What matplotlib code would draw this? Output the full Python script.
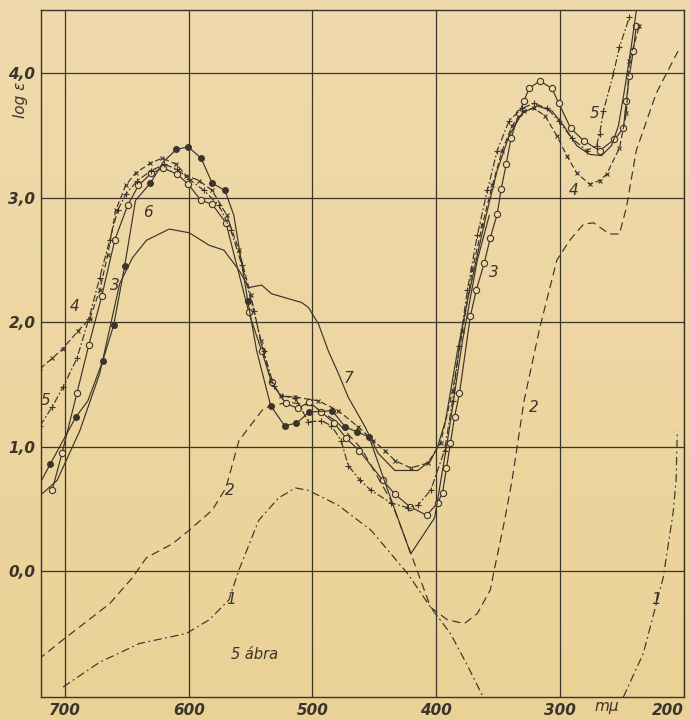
#Importing Libraries
import numpy as np
import matplotlib
matplotlib.use('Agg')
import matplotlib.pyplot as plt

#Data (wavelength in m-mu, log epsilon)
wl_1a = [701.6, 671.9, 639.8, 602.0, 583.5, 567.5, 559.4, 543.4, 527.3, 513.7, 503.2, 479.0,
         452.6, 422.9, 404.4, 388.4, 375.0, 362.0]
le_1a = [-0.93, -0.73, -0.58, -0.50, -0.39, -0.23, 0.01, 0.41, 0.59, 0.67, 0.65, 0.53,
         0.33, -0.02, -0.29, -0.50, -0.75, -1.01]
wl_1b = [248.6, 232.5, 216.4, 208.4, 206.0, 205.0]
le_1b = [-1.01, -0.66, -0.05, 0.47, 0.73, 1.13]

wl_2 = [721.7, 701.6, 663.9, 645.4, 634.1, 613.3, 599.6, 581.1, 569.9, 559.4, 539.4, 520.0,
        500.0, 480.0, 460.0, 436.5, 422.9, 404.4, 390.8, 377.1, 366.7, 356.2, 353.0, 345.0,
        338.6, 328.9, 316.1, 302.4, 292.0, 280.7, 272.7, 259.8, 251.8, 246.2, 238.2, 222.1, 204.4]
le_2 = [-0.71, -0.55, -0.26, -0.05, 0.11, 0.22, 0.33, 0.49, 0.67, 1.05, 1.31, 1.36,
        1.33, 1.20, 0.98, 0.57, 0.21, -0.29, -0.39, -0.42, -0.34, -0.15, 0.01, 0.39,
        0.73, 1.37, 1.96, 2.50, 2.66, 2.79, 2.80, 2.71, 2.71, 2.92, 3.38, 3.84, 4.18]

wl_3 = [710.4, 702.4, 690.4, 680.7, 670.3, 659.8, 649.4, 640.6, 630.1, 620.5, 609.2, 600.4,
        590.0, 581.1, 569.9, 551.4, 541.0, 533.0, 521.7, 512.0, 502.4, 492.8, 482.3, 472.7,
        462.2, 443.0, 433.3, 421.3, 407.6, 398.8, 394.8, 391.6, 388.4, 385.1, 381.1, 372.3,
        367.5, 361.0, 356.2, 350.6, 347.4, 343.4, 339.4, 333.0, 328.9, 324.9, 316.1, 306.4,
        300.8, 291.2, 280.7, 267.9, 255.8, 248.6, 246.2, 243.8, 240.6, 238.2]
le_3 = [0.65, 0.95, 1.43, 1.82, 2.21, 2.66, 2.94, 3.10, 3.20, 3.24, 3.19, 3.11,
        2.98, 2.95, 2.80, 2.08, 1.77, 1.52, 1.35, 1.31, 1.36, 1.28, 1.19, 1.07,
        0.97, 0.73, 0.62, 0.52, 0.45, 0.55, 0.63, 0.83, 1.03, 1.24, 1.43, 2.05,
        2.26, 2.48, 2.68, 2.87, 3.07, 3.27, 3.48, 3.68, 3.78, 3.88, 3.94, 3.88,
        3.76, 3.56, 3.46, 3.38, 3.47, 3.56, 3.78, 3.98, 4.18, 4.38]

wl_4 = [720.1, 710.4, 701.6, 689.6, 679.9, 671.9, 665.5, 659.0, 651.0, 643.0, 630.9, 621.3,
        610.0, 602.0, 591.6, 581.1, 569.1, 559.4, 549.8, 541.8, 533.7, 525.7, 513.7, 495.2,
        479.0, 462.9, 450.8, 441.4, 433.3, 420.5, 406.8, 396.4, 386.7, 378.7, 370.7, 362.7,
        354.6, 346.6, 338.6, 329.0, 320.9, 312.0, 302.4, 294.4, 286.3, 275.9, 267.9, 262.2,
        251.8, 246.2, 243.8, 235.7]
le_4 = [1.63, 1.71, 1.79, 1.93, 2.03, 2.26, 2.54, 2.90, 3.10, 3.20, 3.28, 3.32,
        3.27, 3.18, 3.14, 3.06, 2.86, 2.58, 2.22, 1.85, 1.53, 1.41, 1.40, 1.37,
        1.29, 1.16, 1.05, 0.97, 0.89, 0.83, 0.87, 1.03, 1.45, 1.93, 2.42, 2.78,
        3.10, 3.38, 3.58, 3.70, 3.72, 3.66, 3.50, 3.34, 3.20, 3.11, 3.14, 3.19,
        3.40, 3.68, 4.10, 4.38]

wl_5 = [720.1, 710.4, 701.6, 690.4, 680.7, 671.9, 663.9, 657.4, 651.0, 641.4, 630.1, 619.7,
        609.2, 599.6, 587.6, 575.5, 565.9, 557.0, 547.4, 539.4, 531.3, 524.9, 513.7, 503.2,
        492.8, 484.7, 476.7, 471.1, 461.4, 452.6, 436.5, 422.9, 414.9, 404.4, 393.2, 386.7,
        381.1, 374.7, 366.7, 358.6, 350.6, 341.0, 330.5, 320.9, 310.4, 300.8, 290.4, 278.3,
        270.3, 267.9, 264.7, 256.6, 251.8, 243.8]
le_5 = [1.17, 1.32, 1.48, 1.71, 2.03, 2.36, 2.66, 2.90, 3.03, 3.14, 3.22, 3.27,
        3.23, 3.15, 3.06, 2.94, 2.74, 2.46, 2.09, 1.77, 1.49, 1.41, 1.39, 1.20,
        1.21, 1.17, 1.05, 0.85, 0.73, 0.65, 0.55, 0.51, 0.53, 0.65, 0.97, 1.37,
        1.81, 2.26, 2.70, 3.06, 3.38, 3.62, 3.72, 3.76, 3.72, 3.62, 3.48, 3.38,
        3.42, 3.51, 3.70, 4.00, 4.21, 4.45]

wl_6 = [720.1, 712.0, 691.2, 681.5, 669.5, 660.6, 651.8, 643.0, 630.9, 620.5, 610.0, 600.4,
        590.0, 581.1, 570.7, 563.5, 552.2, 545.0, 533.7, 522.5, 512.9, 502.4, 483.9, 473.5,
        463.9, 454.2, 439.0, 420.5, 401.2, 390.8, 378.7, 366.7, 357.0]
le_6 = [0.71, 0.86, 1.24, 1.37, 1.69, 1.98, 2.45, 2.98, 3.12, 3.29, 3.39, 3.41,
        3.32, 3.12, 3.06, 2.86, 2.17, 1.77, 1.33, 1.17, 1.19, 1.28, 1.29, 1.16,
        1.12, 1.08, 0.65, 0.14, 0.43, 1.05, 1.85, 2.50, 2.86]
dots_6 = [1, 2, 4, 5, 6, 8, 10, 11, 12, 13, 14, 16, 18, 19, 20, 21, 22, 23, 24, 25]

wl_7 = [720.0, 706.4, 688.0, 671.9, 655.8, 645.4, 634.1, 615.7, 599.6, 583.5, 571.5, 559.4,
        551.4, 541.0, 533.0, 519.3, 508.8, 503.2, 495.2, 487.1, 479.0, 471.1, 457.4, 447.0,
        433.3, 414.9, 404.4, 398.8, 392.4, 382.7, 374.7, 366.7, 358.6, 350.6, 341.0, 330.5,
        318.5, 306.4, 296.8, 286.3, 275.9, 266.3, 258.2, 252.6, 247.8, 242.2, 238.2]
le_7 = [0.61, 0.73, 1.13, 1.59, 2.31, 2.52, 2.66, 2.75, 2.72, 2.62, 2.58, 2.42,
        2.28, 2.30, 2.23, 2.19, 2.16, 2.12, 1.99, 1.77, 1.59, 1.40, 1.16, 0.95,
        0.81, 0.81, 0.89, 1.00, 1.21, 1.77, 2.17, 2.54, 2.90, 3.22, 3.50, 3.68,
        3.74, 3.70, 3.58, 3.42, 3.35, 3.34, 3.42, 3.58, 3.86, 4.22, 4.50]

#Curve number labels
lab_txt = ['1', '1', '2', '2', '3', '3', '4', '4', '5', '5', '6', '7']
lab_wl = [566, 222, 567, 321, 660, 353, 692, 289, 716, 272, 633, 471]
lab_le = [-0.23, -0.23, 0.65, 1.32, 2.30, 2.40, 2.13, 3.06, 1.37, 3.68, 2.88, 1.55]

x_ticks = [700, 600, 500, 400, 300, 200]
y_ticks = [0, 1, 2, 3, 4]
y_tick_labels = ['0,0', '1,0', '2,0', '3,0', '4,0']

ink = '#3a342b'
paper = '#eed7a7'

fig = plt.figure(figsize=(6.89, 7.2), dpi=100)
fig.patch.set_facecolor(paper)

# paper tone, a little more yellow at the bottom
bg = fig.add_axes([0, 0, 1, 1], zorder=-10)
grad = np.linspace(0, 1, 256).reshape(-1, 1)
top_c = np.array([240, 218, 172]) / 255
bot_c = np.array([234, 210, 150]) / 255
img = top_c * (1 - grad[..., None]) + bot_c * grad[..., None]
bg.imshow(np.repeat(img, 2, axis=1), aspect='auto', extent=[0, 1, 0, 1])
bg.axis('off')

ax = fig.add_axes([41 / 689, 1 - 697 / 720, 642.5 / 689, 687 / 720])
ax.patch.set_alpha(0)
ax.set_xlim(719.4, 200)
ax.set_ylim(-1.01, 4.51)

for s in ax.spines.values():
    s.set_color(ink)
    s.set_linewidth(1.0)
ax.grid(True, color=ink, linewidth=0.9)
ax.set_axisbelow(True)

lw = 0.85
ax.plot(wl_1a, le_1a, color=ink, lw=lw, ls=(0, (7, 3, 1.5, 3)))
ax.plot(wl_1b, le_1b, color=ink, lw=lw, ls=(0, (7, 3, 1.5, 3)))
ax.plot(wl_2, le_2, color=ink, lw=lw, ls=(0, (7, 4)))
ax.plot(wl_3, le_3, color=ink, lw=lw, marker='o', ms=4.5, mfc=paper, mec=ink, mew=0.8)
ax.plot(wl_4, le_4, color=ink, lw=lw, ls=(0, (5, 2.5)), marker='x', ms=3.5, mew=0.8)
ax.plot(wl_5, le_5, color=ink, lw=lw, ls=(0, (6, 2, 1.5, 2)), marker='+', ms=4.5, mew=0.8)
ax.plot(wl_6, le_6, color=ink, lw=lw, marker='o', ms=4, mfc=ink, mec=ink, markevery=dots_6)
ax.plot(wl_7, le_7, color=ink, lw=lw)

for t, xx, yy in zip(lab_txt, lab_wl, lab_le):
    ax.text(xx, yy, t, fontsize=11, fontstyle='italic', color=ink, ha='center', va='center')

ax.text(547, -0.67, '5 ábra', fontsize=10.5, fontstyle='italic', color=ink, ha='center', va='center')

ax.set_xticks(x_ticks)
ax.set_xticklabels([str(v) for v in x_ticks])
ax.set_yticks(y_ticks)
ax.set_yticklabels(y_tick_labels)
ax.tick_params(length=0, colors=ink, labelsize=11, pad=4)
for lab in ax.get_xticklabels() + ax.get_yticklabels():
    lab.set_fontstyle('italic')
    lab.set_fontweight('bold')
ax.get_xticklabels()[-1].set_horizontalalignment('right')

fig.text(607 / 689, 1 - 706 / 720, 'm\u03bc', fontsize=11, fontstyle='italic', color=ink,
         ha='center', va='center')
fig.text(20 / 689, 1 - 100 / 720, 'log \u03b5', fontsize=11, fontstyle='italic', color=ink,
         rotation=90, ha='center', va='center')

fig.savefig('out.png', dpi=100, facecolor=fig.get_facecolor())
